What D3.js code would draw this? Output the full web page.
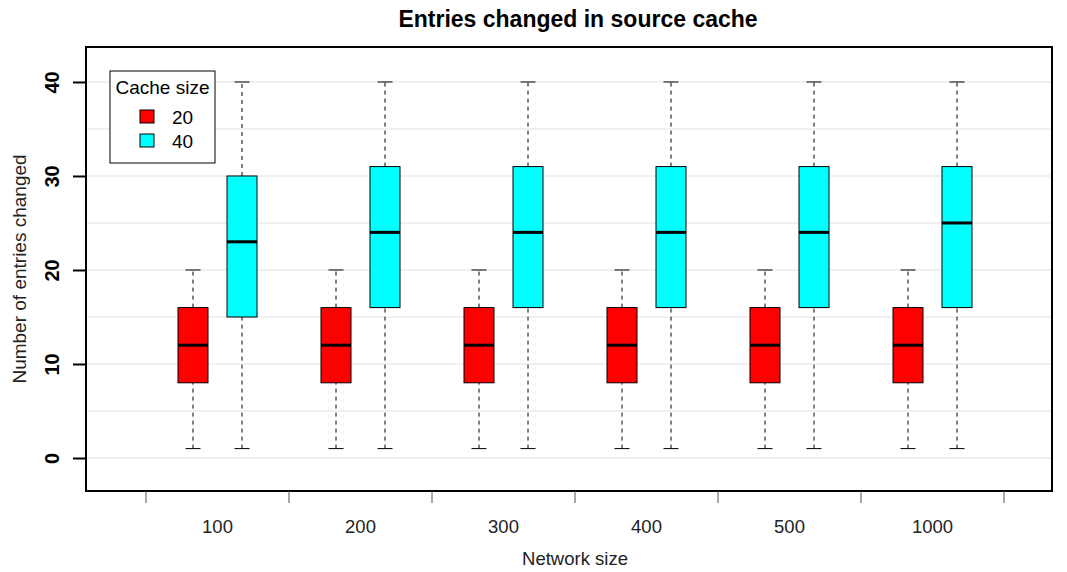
<!DOCTYPE html>
<html>
<head>
<meta charset="utf-8">
<script src="https://cdn.jsdelivr.net/npm/d3@7"></script>
<style>
  body { margin: 0; background: #fff; }
  text { font-family: "Liberation Sans", Arial, sans-serif; }
</style>
</head>
<body>
<div id="chart"></div>
<script>
// data
var networkSizes = ["100", "200", "300", "400", "500", "1000"];
var cacheSizes = ["20", "40"];
var cacheColors = ["#ff0000", "#00ffff"];
// [min, q1, median, q3, max] per network size
var stats20 = [
    [1, 8, 12, 16, 20],
    [1, 8, 12, 16, 20],
    [1, 8, 12, 16, 20],
    [1, 8, 12, 16, 20],
    [1, 8, 12, 16, 20],
    [1, 8, 12, 16, 20]
];
var stats40 = [
    [1, 15, 23, 30, 40],
    [1, 16, 24, 31, 40],
    [1, 16, 24, 31, 40],
    [1, 16, 24, 31, 40],
    [1, 16, 24, 31, 40],
    [1, 16, 25, 31, 40]
];
var yTicks = [0, 10, 20, 30, 40];
var gridValues = [0, 5, 10, 15, 20, 25, 30, 35, 40];

var svgWidth = 1067;
var svgHeight = 572;
var plot = { left: 86, right: 1052, top: 47, bottom: 491 };

var svg = d3.select("#chart")
    .append("svg")
    .attr("width", svgWidth)
    .attr("height", svgHeight);

// scales
var yScale = d3.scaleLinear()
    .domain([-3.51, 43.72])
    .range([plot.bottom, plot.top]);

// group slots: outer ticks at 146 ... 1004
var xScale = d3.scaleBand()
    .domain(networkSizes)
    .range([146, 1004]);

var inner = d3.scaleBand()
    .domain(cacheSizes)
    .range([-49, 49])
    .paddingInner(0.0);

var boxWidth = 30;

// grid
svg.append("g")
    .selectAll("line")
    .data(gridValues)
    .enter()
    .append("line")
    .attr("x1", plot.left)
    .attr("x2", plot.right)
    .attr("y1", d => yScale(d))
    .attr("y2", d => yScale(d))
    .attr("stroke", "#ebebeb")
    .attr("stroke-width", 1.5);

// boxes
var series = [stats20, stats40];
series.forEach(function(stats, si) {
    var g = svg.append("g");
    var groups = g.selectAll("g")
        .data(stats.map((s, i) => ({ s: s, name: networkSizes[i] })))
        .enter()
        .append("g")
        .attr("transform", d => {
            var cx = xScale(d.name) + xScale.bandwidth() / 2 + inner(cacheSizes[si]) + inner.bandwidth() / 2;
            return `translate(${cx},0)`;
        });

    // whiskers
    groups.append("line")
        .attr("x1", 0).attr("x2", 0)
        .attr("y1", d => yScale(d.s[0]))
        .attr("y2", d => yScale(d.s[1]))
        .attr("stroke", "#000")
        .attr("stroke-dasharray", "4,4");
    groups.append("line")
        .attr("x1", 0).attr("x2", 0)
        .attr("y1", d => yScale(d.s[3]))
        .attr("y2", d => yScale(d.s[4]))
        .attr("stroke", "#000")
        .attr("stroke-dasharray", "4,4");
    // caps
    [0, 4].forEach(function(k) {
        groups.append("line")
            .attr("x1", -boxWidth / 4).attr("x2", boxWidth / 4)
            .attr("y1", d => yScale(d.s[k]))
            .attr("y2", d => yScale(d.s[k]))
            .attr("stroke", "#000");
    });
    // box
    groups.append("rect")
        .attr("x", -boxWidth / 2)
        .attr("width", boxWidth)
        .attr("y", d => yScale(d.s[3]))
        .attr("height", d => yScale(d.s[1]) - yScale(d.s[3]))
        .attr("fill", cacheColors[si])
        .attr("stroke", "#000");
    // median
    groups.append("line")
        .attr("x1", -boxWidth / 2).attr("x2", boxWidth / 2)
        .attr("y1", d => yScale(d.s[2]))
        .attr("y2", d => yScale(d.s[2]))
        .attr("stroke", "#000")
        .attr("stroke-width", 3);
});

// plot frame
svg.append("rect")
    .attr("x", plot.left)
    .attr("y", plot.top)
    .attr("width", plot.right - plot.left)
    .attr("height", plot.bottom - plot.top)
    .attr("fill", "none")
    .attr("stroke", "#000")
    .attr("stroke-width", 2);

// y axis
var yAxis = svg.append("g")
    .attr("transform", `translate(${plot.left},0)`)
    .call(d3.axisLeft(yScale).tickValues(yTicks).tickSize(13).tickFormat(d3.format("d")));
yAxis.select(".domain").remove();
yAxis.selectAll(".tick line").attr("stroke-width", 2);
yAxis.selectAll(".tick text")
    .attr("font-size", "20px")
    .attr("font-weight", "bold")
    .attr("fill", "#000")
    .attr("transform", "rotate(-90)")
    .attr("x", 0)
    .attr("y", -27)
    .attr("dy", "0")
    .attr("text-anchor", "middle");

// x axis ticks (between groups) and labels (at group centres)
var xEdges = networkSizes.map(d => xScale(d)).concat([xScale.range()[1]]);
svg.append("g")
    .selectAll("line")
    .data(xEdges)
    .enter()
    .append("line")
    .attr("x1", d => d).attr("x2", d => d)
    .attr("y1", plot.bottom)
    .attr("y2", plot.bottom + 12)
    .attr("stroke", "#555")
    .attr("stroke-width", 1);

svg.append("g")
    .selectAll("text")
    .data(networkSizes)
    .enter()
    .append("text")
    .attr("x", d => xScale(d) + xScale.bandwidth() / 2)
    .attr("y", 533)
    .attr("text-anchor", "middle")
    .attr("font-size", "18.5px")
    .attr("fill", "#222")
    .text(d => d);

// titles
svg.append("text")
    .attr("x", 578)
    .attr("y", 27)
    .attr("text-anchor", "middle")
    .attr("font-size", "23px")
    .attr("font-weight", "bold")
    .text("Entries changed in source cache");

svg.append("text")
    .attr("x", 575)
    .attr("y", 565)
    .attr("text-anchor", "middle")
    .attr("font-size", "18.5px")
    .attr("fill", "#222")
    .text("Network size");

svg.append("text")
    .attr("transform", `translate(26, ${(plot.top + plot.bottom) / 2}) rotate(-90)`)
    .attr("text-anchor", "middle")
    .attr("font-size", "19px")
    .attr("fill", "#222")
    .text("Number of entries changed");

// legend
var legend = svg.append("g").attr("transform", "translate(110,71)");
legend.append("rect")
    .attr("width", 105)
    .attr("height", 92)
    .attr("fill", "#fff")
    .attr("stroke", "#000");
legend.append("text")
    .attr("x", 52.5)
    .attr("y", 23)
    .attr("text-anchor", "middle")
    .attr("font-size", "19px")
    .text("Cache size");
var items = legend.selectAll(".item")
    .data(cacheSizes)
    .enter()
    .append("g")
    .attr("transform", (d, i) => `translate(0, ${46 + i * 24})`);
items.append("rect")
    .attr("x", 30)
    .attr("y", -7)
    .attr("width", 14)
    .attr("height", 13)
    .attr("fill", (d, i) => cacheColors[i])
    .attr("stroke", "#000");
items.append("text")
    .attr("x", 62)
    .attr("y", 7)
    .attr("font-size", "19px")
    .text(d => d);
</script>
</body>
</html>
